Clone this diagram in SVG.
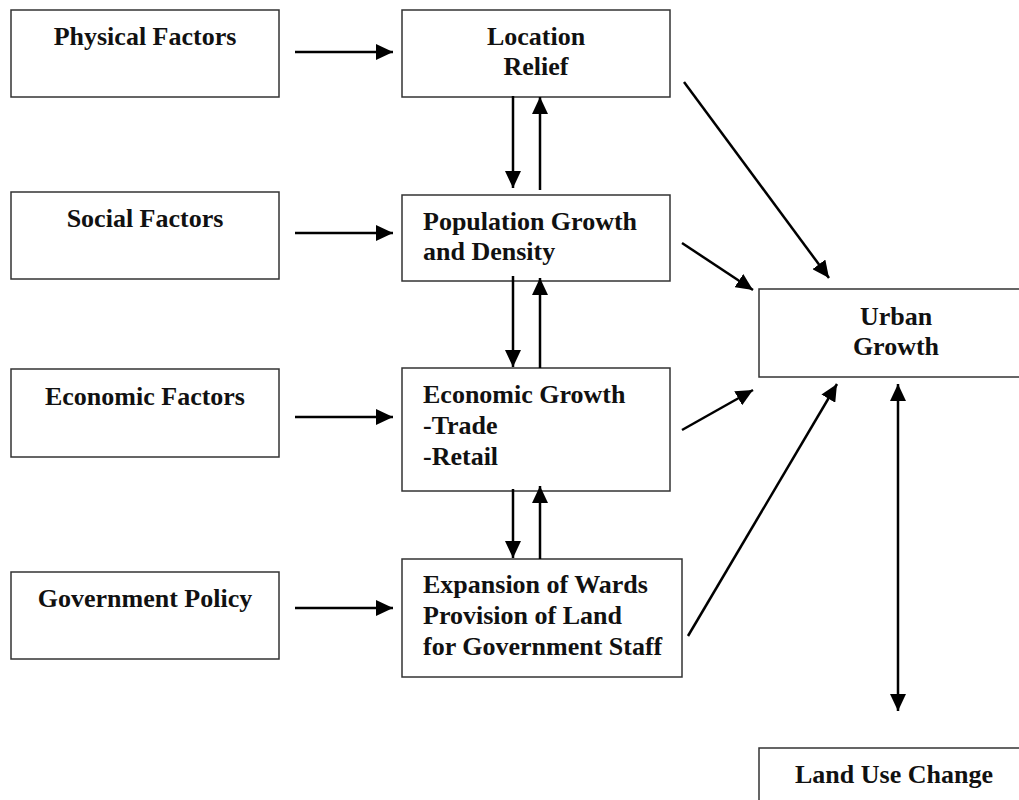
<svg xmlns="http://www.w3.org/2000/svg" width="1019" height="800" viewBox="0 0 1019 800">
<defs>
<style>
.box{fill:#fff;stroke:#333;stroke-width:1.5}
.t{font-family:"Liberation Serif","Times New Roman",serif;font-weight:bold;font-size:26px;fill:#111}
.c{text-anchor:middle}
.a{stroke:#000;stroke-width:2.5;fill:none}
</style>
<marker id="ah" markerUnits="userSpaceOnUse" markerWidth="17" markerHeight="16" refX="17" refY="8" orient="auto-start-reverse" viewBox="0 0 17 16">
<path d="M0,0 L17,8 L0,16 z" fill="#000"/>
</marker>
</defs>
<rect width="1019" height="800" fill="#fff"/>
<g id="physical"><rect class="box" x="11" y="10" width="268" height="87"/><text class="t c" x="145" y="45">Physical Factors</text></g>
<g id="social"><rect class="box" x="11" y="192" width="268" height="87"/><text class="t c" x="145" y="227">Social Factors</text></g>
<g id="economic-factors"><rect class="box" x="11" y="369" width="268" height="88"/><text class="t c" x="145" y="405">Economic Factors</text></g>
<g id="government"><rect class="box" x="11" y="572" width="268" height="87"/><text class="t c" x="145" y="607">Government Policy</text></g>
<g id="location"><rect class="box" x="402" y="10" width="268" height="87"/><text class="t c" x="536" y="45">Location</text><text class="t c" x="536" y="75">Relief</text></g>
<g id="population"><rect class="box" x="402" y="195" width="268" height="86"/><text class="t" x="423" y="230">Population Growth</text><text class="t" x="423" y="260">and Density</text></g>
<g id="economic-growth"><rect class="box" x="402" y="368" width="268" height="123"/><text class="t" x="423" y="403">Economic Growth</text><text class="t" x="423" y="434">-Trade</text><text class="t" x="423" y="465">-Retail</text></g>
<g id="expansion"><rect class="box" x="402" y="559" width="280" height="118"/><text class="t" x="423" y="593">Expansion of Wards</text><text class="t" x="423" y="624">Provision of Land</text><text class="t" x="423" y="655">for Government Staff</text></g>
<g id="urban"><rect class="box" x="759" y="289" width="270" height="88"/><text class="t c" x="896" y="325">Urban</text><text class="t c" x="896" y="355">Growth</text></g>
<g id="landuse"><rect class="box" x="759" y="748" width="270" height="70"/><text class="t c" x="894" y="783">Land Use Change</text></g>
<g id="connectors">
<line class="a" x1="295" y1="52" x2="393" y2="52" marker-end="url(#ah)"/>
<line class="a" x1="295" y1="233" x2="393" y2="233" marker-end="url(#ah)"/>
<line class="a" x1="295" y1="417" x2="393" y2="417" marker-end="url(#ah)"/>
<line class="a" x1="295" y1="608" x2="393" y2="608" marker-end="url(#ah)"/>
<line class="a" x1="513" y1="96" x2="513" y2="188" marker-end="url(#ah)"/>
<line class="a" x1="540" y1="190" x2="540" y2="97" marker-end="url(#ah)"/>
<line class="a" x1="513" y1="276" x2="513" y2="367" marker-end="url(#ah)"/>
<line class="a" x1="540" y1="368" x2="540" y2="278" marker-end="url(#ah)"/>
<line class="a" x1="513" y1="489" x2="513" y2="558" marker-end="url(#ah)"/>
<line class="a" x1="540" y1="559" x2="540" y2="486" marker-end="url(#ah)"/>
<line class="a" x1="684" y1="82" x2="829" y2="278" marker-end="url(#ah)"/>
<line class="a" x1="682" y1="243" x2="753" y2="290" marker-end="url(#ah)"/>
<line class="a" x1="682" y1="430" x2="753" y2="390" marker-end="url(#ah)"/>
<line class="a" x1="688" y1="636" x2="837" y2="384" marker-end="url(#ah)"/>
<line class="a" x1="898" y1="384" x2="898" y2="711" marker-start="url(#ah)" marker-end="url(#ah)"/>
</g>
</svg>
